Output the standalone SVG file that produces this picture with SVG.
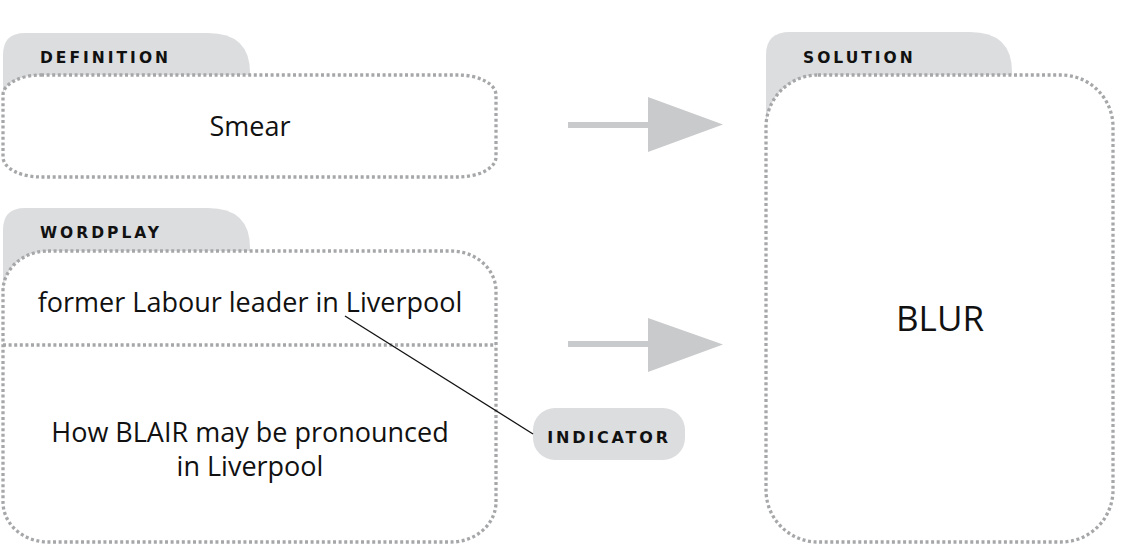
<svg xmlns="http://www.w3.org/2000/svg" width="1124" height="546" viewBox="0 0 1124 546">
<defs>
<style>
.tab{fill:#dcdddf;}
.box{fill:#ffffff;stroke:#a6a7a9;stroke-width:3.3;stroke-dasharray:3 2.6;}
.div{stroke:#a6a7a9;stroke-width:3.3;stroke-dasharray:3 2.6;fill:none;}
.lbl{font-family:"DejaVu Sans","Liberation Sans",sans-serif;font-weight:bold;font-size:15.5px;letter-spacing:3px;fill:#111;}
.txt{font-family:"Open Sans","Liberation Sans",sans-serif;font-size:27px;fill:#111;text-anchor:middle;}
.arrow{fill:#c9cacc;}
</style>
</defs>
<rect width="1124" height="546" fill="#ffffff"/>
<g id="definition">
<path class="tab" d="M3,120 V55 Q3,33 25,33 H208 Q250,33 250,73 V120 Z"/>
<rect class="box" x="3" y="75" width="493" height="102" rx="38" ry="20"/>
<text class="lbl" x="40" y="63">DEFINITION</text>
<text class="txt" x="250" y="136">Smear</text>
</g>
<g id="wordplay">
<path class="tab" d="M3,300 V230 Q3,208 25,208 H208 Q250,208 250,248 V300 Z"/>
<rect class="box" x="3" y="251" width="493" height="291" rx="45" ry="40"/>
<line class="div" x1="3" y1="345" x2="496" y2="345"/>
<text class="lbl" x="40" y="238">WORDPLAY</text>
<text class="txt" x="250" y="312">former Labour leader in Liverpool</text>
<text class="txt" x="250" y="442">How BLAIR may be pronounced</text>
<text class="txt" x="250" y="476">in Liverpool</text>
</g>
<g id="solution">
<path class="tab" d="M766,160 V55 Q766,32 790,32 H970 Q1012,32 1012,72 V160 Z"/>
<rect class="box" x="766" y="75" width="347" height="467" rx="52" ry="52"/>
<text class="lbl" x="803" y="63">SOLUTION</text>
<text class="txt" x="940" y="331" style="font-size:35px">BLUR</text>
</g>
<g id="indicator">
<rect x="533" y="408" width="152" height="52" rx="22" ry="22" fill="#dcdddf"/>
<text class="lbl" x="609" y="443" text-anchor="middle" style="font-size:16px;letter-spacing:2.8px">INDICATOR</text>
</g>
<g id="connectors">
<line x1="345" y1="316" x2="533" y2="434" stroke="#111" stroke-width="1.3"/>
<path class="arrow" d="M568,122 H648 V97 L723,124.5 L648,152 V128 H568 Z"/>
<path class="arrow" d="M568,341 H648 V318 L723,344.5 L648,372 V347 H568 Z"/>
</g>
</svg>
